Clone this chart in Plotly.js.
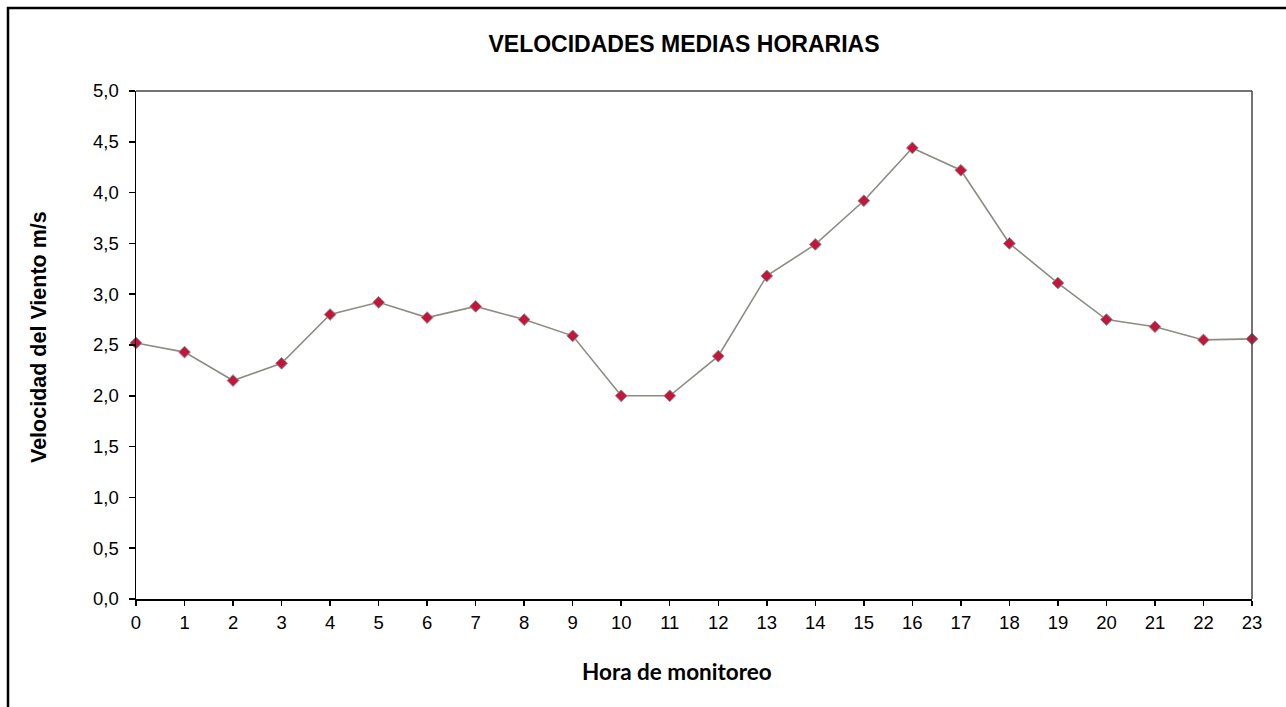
<!DOCTYPE html>
<html>
<head>
<meta charset="utf-8">
<script src="https://cdn.plot.ly/plotly-3.0.1.min.js"></script>
<style>
html,body{margin:0;padding:0;background:#fff;}
#chart{width:1286px;height:707px;}
</style>
</head>
<body>
<div id="chart"></div>
<script>
const horas = [0,1,2,3,4,5,6,7,8,9,10,11,12,13,14,15,16,17,18,19,20,21,22,23];
const velocidad = [2.52,2.43,2.15,2.32,2.80,2.92,2.77,2.88,2.75,2.59,2.00,2.00,2.39,3.18,3.49,3.92,4.44,4.22,3.50,3.11,2.75,2.68,2.55,2.56];
const tituloGrafico = 'VELOCIDADES MEDIAS HORARIAS';
const tituloX = 'Hora de monitoreo';
const tituloY = 'Velocidad del Viento m/s';

const trace = {
  x: horas,
  y: velocidad,
  type: 'scatter',
  mode: 'lines+markers',
  cliponaxis: false,
  line: {color: '#8c8c84', width: 1.6},
  marker: {symbol: 'diamond', size: 9, color: '#c4163c', line: {color: '#8c8c84', width: 1}},
  hoverinfo: 'x+y'
};

const L = 136, R = 1252, T = 91, B = 599;
const W = R - L, H = B - T;
const px = v => (v - L) / W;
const py = v => (B - v) / H;

const layout = {
  width: 1286,
  height: 707,
  margin: {l: L, r: 1286 - R, t: T, b: 707 - B, pad: 0},
  paper_bgcolor: '#ffffff',
  plot_bgcolor: '#ffffff',
  separators: ',.',
  showlegend: false,
  font: {family: '"Liberation Sans", Arial, sans-serif', color: '#000'},
  title: {
    text: '<b>' + tituloGrafico + '</b>',
    xref: 'container', yref: 'container',
    x: 684 / 1286, y: 1 - 44 / 707,
    xanchor: 'center', yanchor: 'middle',
    font: {family: '"Liberation Sans", Arial, sans-serif', size: 23, color: '#000'}
  },
  xaxis: {
    range: [0, 23],
    tickmode: 'linear', tick0: 0, dtick: 1,
    showgrid: false, zeroline: false,
    showline: true, linecolor: '#000', linewidth: 1.5,
    ticks: 'outside', ticklen: 5, tickwidth: 1.5, tickcolor: '#000',
    tickfont: {size: 18.5, color: '#000'},
    ticklabelstandoff: 1,
    fixedrange: true
  },
  yaxis: {
    range: [0, 5],
    tickmode: 'linear', tick0: 0, dtick: 0.5,
    tickformat: '.1f',
    showgrid: false, zeroline: false,
    showline: true, linecolor: '#000', linewidth: 1.5,
    ticks: 'outside', ticklen: 6, tickwidth: 1.5, tickcolor: '#000',
    tickfont: {size: 18.5, color: '#000'},
    ticklabelstandoff: 6,
    fixedrange: true
  },
  annotations: [
    {
      text: '<b>' + tituloY + '</b>',
      xref: 'paper', yref: 'paper',
      x: px(39), y: py(337),
      xanchor: 'center', yanchor: 'middle',
      textangle: -90, showarrow: false,
      font: {family: '"Liberation Sans", Arial, sans-serif', size: 21.5, color: '#000'}
    },
    {
      text: '<b>' + tituloX + '</b>',
      xref: 'paper', yref: 'paper',
      x: px(677), y: py(671),
      xanchor: 'center', yanchor: 'middle',
      showarrow: false,
      font: {family: 'Lato, "Open Sans", sans-serif', size: 22.5, color: '#000'}
    }
  ],
  shapes: [
    {type: 'line', xref: 'paper', yref: 'paper', x0: 0, x1: 1, y0: 1, y1: 1, line: {color: '#444', width: 1.5}},
    {type: 'line', xref: 'paper', yref: 'paper', x0: 1, x1: 1, y0: 0, y1: 1, line: {color: '#444', width: 1.5}},
    {type: 'rect', xref: 'paper', yref: 'paper', x0: px(8), x1: px(1310), y0: py(730), y1: py(8), line: {color: '#000', width: 2.5}, fillcolor: 'rgba(0,0,0,0)', layer: 'above'}
  ]
};

Plotly.newPlot('chart', [trace], layout, {displayModeBar: false, staticPlot: true});
</script>
</body>
</html>
